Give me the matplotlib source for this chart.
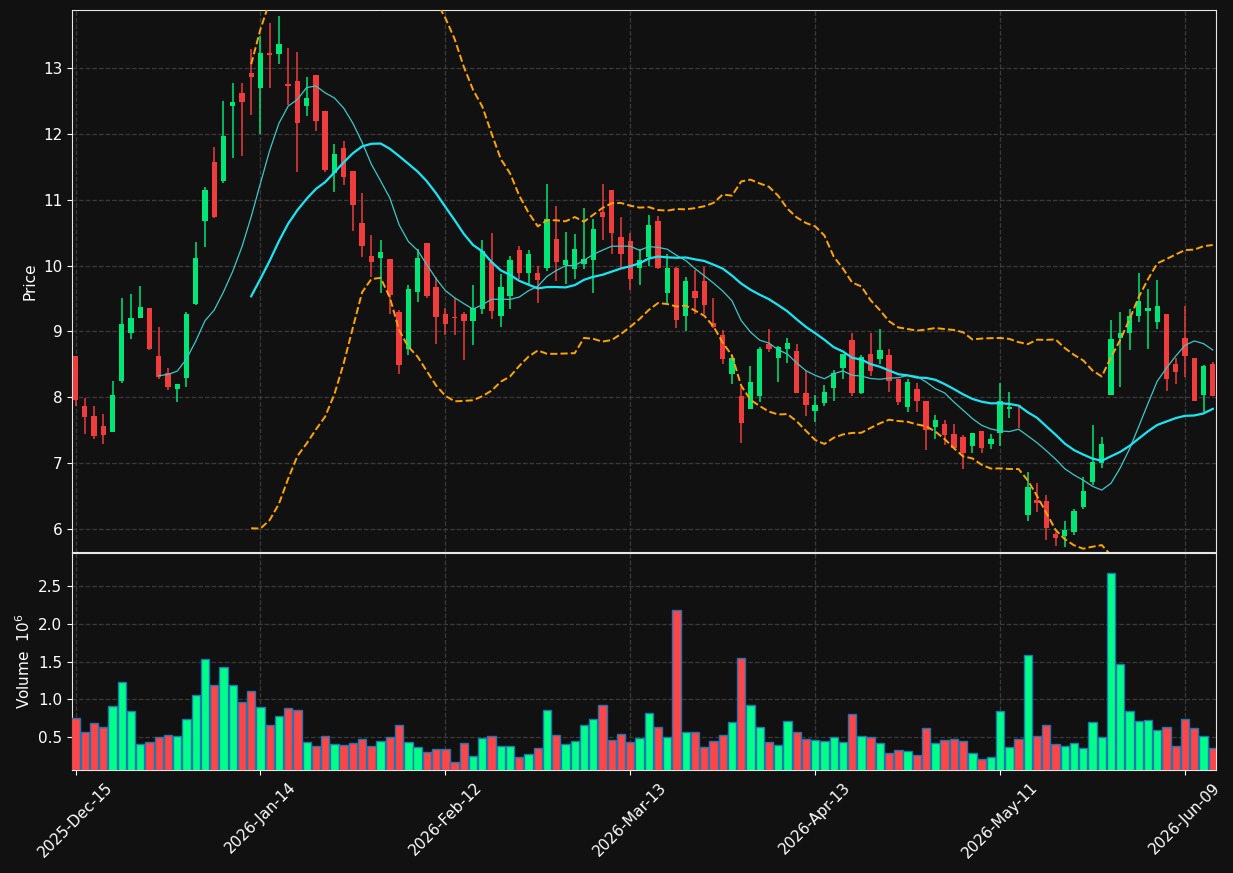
import numpy as np
import pandas as pd
import matplotlib
matplotlib.use("Agg")
import matplotlib.pyplot as plt

# daily OHLC (124 trading days)
opens = [8.62, 7.86, 7.71, 7.56, 7.47, 8.24, 8.98, 9.20, 9.35, 8.62,
         8.37, 8.13, 8.29, 9.42, 10.67, 11.57, 11.29, 12.43, 12.62, 12.92,
         12.69, 13.23, 13.22, 12.75, 12.81, 12.42, 12.90, 12.34, 11.41, 11.79,
         11.43, 10.65, 10.15, 10.11, 10.10, 9.29, 8.74, 9.60, 10.34, 9.68,
         9.27, 9.21, 9.26, 9.16, 9.34, 10.06, 9.24, 9.53, 10.24, 9.89,
         9.89, 9.96, 10.41, 10.01, 9.94, 10.02, 10.08, 10.82, 11.15, 10.44,
         10.37, 9.97, 10.13, 10.68, 9.58, 9.96, 9.23, 9.61, 9.77, 9.12,
         8.94, 8.35, 8.02, 7.82, 8.02, 8.81, 8.60, 8.74, 8.70, 8.06,
         7.79, 7.91, 8.14, 8.45, 8.87, 8.07, 8.65, 8.58, 8.64, 8.28,
         7.85, 8.12, 7.94, 7.55, 7.60, 7.44, 7.39, 7.26, 7.48, 7.29,
         7.45, 7.82, 7.88, 6.21, 6.44, 6.42, 5.93, 5.90, 5.95, 6.33,
         6.71, 7.00, 8.03, 8.90, 8.97, 9.24, 9.31, 9.15, 9.26, 8.51,
         8.90, 8.60, 8.04, 8.50]
highs = [8.62, 7.99, 7.87, 7.74, 8.24, 9.50, 9.57, 9.69, 9.35, 9.06,
         8.45, 8.20, 9.29, 10.36, 11.20, 11.80, 12.50, 12.77, 12.77, 13.29,
         13.48, 13.69, 13.79, 13.31, 13.24, 12.86, 12.90, 12.34, 11.85, 11.89,
         11.43, 11.10, 10.46, 10.39, 10.10, 9.32, 9.70, 10.25, 10.34, 9.82,
         9.36, 9.50, 9.29, 9.71, 10.39, 10.50, 9.87, 10.15, 10.30, 10.24,
         10.00, 11.24, 10.90, 10.51, 10.48, 10.88, 10.71, 11.24, 11.15, 10.73,
         10.50, 10.25, 10.77, 10.75, 10.17, 9.98, 9.82, 9.93, 9.98, 9.51,
         9.02, 8.64, 8.16, 8.47, 8.77, 9.03, 8.78, 8.90, 8.81, 8.40,
         8.04, 8.19, 8.42, 8.66, 8.97, 8.64, 8.97, 9.04, 8.74, 8.28,
         8.27, 8.21, 7.94, 7.73, 7.65, 7.60, 7.42, 7.46, 7.48, 7.44,
         8.21, 8.08, 7.88, 6.87, 6.70, 6.51, 5.95, 6.12, 6.30, 6.79,
         7.58, 7.39, 9.18, 9.30, 9.34, 9.89, 9.65, 9.78, 9.26, 8.59,
         9.38, 8.60, 8.49, 8.54]
lows = [7.86, 7.44, 7.36, 7.29, 7.47, 8.22, 8.88, 9.20, 8.72, 8.28,
        8.11, 7.93, 8.15, 9.40, 10.28, 10.72, 11.26, 11.64, 11.67, 12.28,
        12.00, 12.70, 13.06, 12.44, 11.42, 12.27, 12.04, 11.42, 11.12, 11.22,
        10.53, 10.13, 9.83, 9.59, 9.27, 8.36, 8.64, 9.45, 9.50, 8.81,
        8.95, 8.95, 8.57, 8.80, 9.26, 9.19, 9.07, 9.34, 9.80, 9.72,
        9.43, 9.92, 9.76, 9.72, 9.80, 9.94, 9.58, 10.39, 10.18, 9.97,
        9.63, 9.71, 10.00, 9.95, 9.43, 9.05, 9.01, 9.27, 9.26, 9.05,
        8.50, 8.20, 7.30, 7.82, 7.93, 8.68, 8.23, 8.52, 8.07, 7.72,
        7.62, 7.86, 7.95, 8.27, 8.02, 8.05, 8.33, 8.51, 8.08, 7.88,
        7.78, 7.78, 7.20, 7.37, 7.28, 7.23, 6.91, 7.16, 7.15, 7.21,
        7.26, 7.68, 7.53, 6.12, 6.26, 5.83, 5.74, 5.72, 5.91, 6.30,
        6.67, 6.92, 8.03, 8.16, 8.72, 9.15, 8.74, 9.03, 8.10, 8.20,
        8.30, 7.94, 7.77, 8.02]
closes = [7.96, 7.70, 7.41, 7.42, 8.04, 9.11, 9.21, 9.37, 8.74, 8.31,
          8.15, 8.20, 9.26, 10.12, 11.15, 10.73, 11.96, 12.49, 12.48, 12.87,
          13.23, 13.20, 13.37, 12.73, 12.16, 12.54, 12.20, 11.45, 11.70, 11.34,
          10.92, 10.29, 10.05, 10.20, 9.55, 8.49, 9.65, 10.11, 9.53, 9.22,
          9.11, 9.20, 9.16, 9.36, 10.22, 9.31, 9.67, 10.08, 9.89, 10.18,
          9.78, 10.71, 10.05, 10.09, 10.25, 10.10, 10.56, 10.73, 10.49, 10.17,
          9.79, 10.08, 10.62, 9.97, 9.97, 9.18, 9.76, 9.51, 9.40, 9.06,
          8.58, 8.60, 7.61, 8.23, 8.73, 8.74, 8.76, 8.83, 8.07, 7.88,
          7.88, 8.08, 8.37, 8.66, 8.07, 8.61, 8.40, 8.71, 8.25, 7.93,
          8.23, 7.95, 7.50, 7.65, 7.43, 7.23, 7.15, 7.45, 7.23, 7.36,
          7.94, 7.85, 7.86, 6.63, 6.39, 6.02, 5.87, 5.99, 6.28, 6.57,
          7.01, 7.29, 8.89, 8.98, 9.24, 9.46, 9.35, 9.38, 8.28, 8.39,
          8.63, 7.95, 8.48, 8.02]
# volume in millions
volumes = [0.753, 0.567, 0.687, 0.633, 0.913, 1.233, 0.847, 0.407, 0.433, 0.50,
           0.527, 0.513, 0.74, 1.06, 1.54, 1.193, 1.433, 1.193, 0.967, 1.113,
           0.90, 0.66, 0.78, 0.887, 0.86, 0.433, 0.38, 0.513, 0.407, 0.393,
           0.42, 0.473, 0.38, 0.447, 0.50, 0.66, 0.433, 0.367, 0.30, 0.34,
           0.34, 0.167, 0.42, 0.247, 0.487, 0.513, 0.38, 0.38, 0.233, 0.273,
           0.353, 0.86, 0.527, 0.407, 0.447, 0.66, 0.74, 0.927, 0.46, 0.54,
           0.433, 0.487, 0.82, 0.633, 0.50, 2.18, 0.567, 0.567, 0.367, 0.447,
           0.527, 0.70, 1.553, 0.927, 0.633, 0.433, 0.393, 0.713, 0.567, 0.473,
           0.46, 0.447, 0.50, 0.433, 0.807, 0.513, 0.50, 0.42, 0.287, 0.327,
           0.313, 0.26, 0.62, 0.42, 0.46, 0.473, 0.447, 0.287, 0.207, 0.233,
           0.847, 0.367, 0.473, 1.593, 0.513, 0.66, 0.407, 0.38, 0.42, 0.353,
           0.70, 0.50, 2.673, 1.473, 0.847, 0.713, 0.727, 0.593, 0.633, 0.38,
           0.74, 0.62, 0.513, 0.353]
tick_labels = ['2025-Dec-15', '2026-Jan-14', '2026-Feb-12', '2026-Mar-13',
               '2026-Apr-13', '2026-May-11', '2026-Jun-09']

df = pd.DataFrame({'Open': opens, 'High': highs, 'Low': lows,
                   'Close': closes, 'Volume': volumes})
x = np.arange(len(df))
up = df['Close'] >= df['Open']

ma10 = df['Close'].rolling(10).mean()
ma20 = df['Close'].rolling(20).mean()
sd20 = df['Close'].rolling(20).std(ddof=0)
bb_up = ma20 + 2 * sd20
bb_lo = ma20 - 2 * sd20

bg = '#111111'
c_up = '#00e676'
c_dn = '#f03c3c'
v_up = '#00ff88'
v_dn = '#ff4545'

fig = plt.figure(figsize=(12.33, 8.73), dpi=100, facecolor=bg)
ax = fig.add_axes([0.0584, 0.3677, 0.9278, 0.6208])
axv = fig.add_axes([0.0584, 0.118, 0.9278, 0.2486], sharex=ax)

for a in (ax, axv):
    a.set_facecolor(bg)
    for s in a.spines.values():
        s.set_color('#e6e6e6')
    a.tick_params(colors='white', labelsize=11)
    a.grid(True, linestyle='--', color='#3a3a3a', linewidth=0.9)
    a.set_axisbelow(True)

# candles
ax.vlines(x, df['Low'], df['High'], colors=np.where(up, c_up, c_dn), linewidth=1.1, zorder=2)
body = (df['Close'] - df['Open']).abs().clip(lower=0.012)
ax.bar(x, body, bottom=df[['Open', 'Close']].min(axis=1), width=0.58,
       color=np.where(up, c_up, c_dn), linewidth=0, zorder=3)

ax.plot(x, ma10, color='#3cc8c8', linewidth=0.9, zorder=4)
ax.plot(x, ma20, color='#19e6f5', linewidth=1.6, zorder=4)
ax.plot(x, bb_up, color='orange', linestyle='--', linewidth=1.4, zorder=4)
ax.plot(x, bb_lo, color='orange', linestyle='--', linewidth=1.4, zorder=4)

ax.set_ylim(5.65, 13.88)
ax.set_ylabel('Price', color='white', fontsize=11)
plt.setp(ax.get_xticklabels(), visible=False)
ax.tick_params(axis='x', length=0)

# volume
axv.bar(x, df['Volume'], width=0.9, color=np.where(up, v_up, v_dn),
        edgecolor='#1f77b4', linewidth=1.0, zorder=3)
axv.set_ylim(0.056, 2.945)
axv.set_yticks([0.5, 1.0, 1.5, 2.0, 2.5])
axv.set_ylabel('Volume  $10^{6}$', color='white', fontsize=11)

axv.set_xlim(-0.38, 123.35)
axv.set_xticks(np.arange(0, len(df), 20))
axv.set_xticklabels(tick_labels, rotation=45, ha='center')

fig.savefig('out.png', dpi=100, facecolor=bg)
